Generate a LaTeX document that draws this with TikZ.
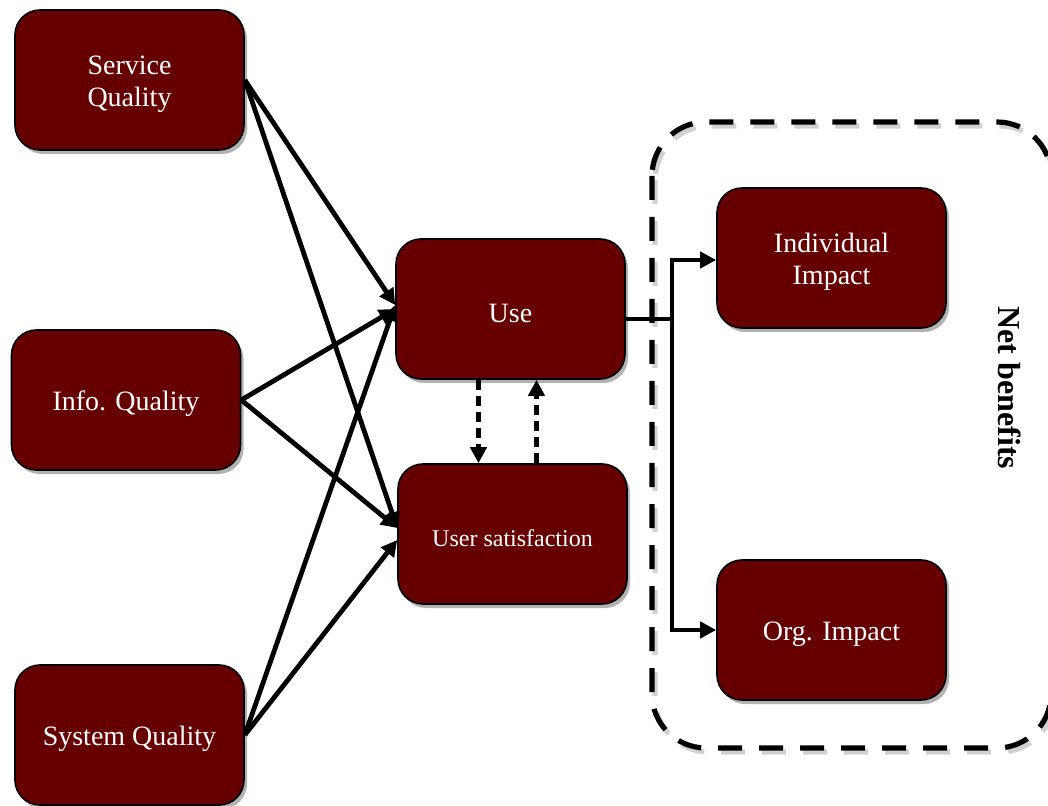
\documentclass[tikz,border=0pt]{standalone}
\usepackage{fontspec}
\setmainfont{Liberation Serif}
\usetikzlibrary{arrows.meta,shadows,calc}
\definecolor{boxred}{HTML}{660000}
\newcommand{\lowr}[1]{\raisebox{-2pt}[\height][\depth]{#1}}
\begin{document}
\begin{tikzpicture}[x=0.5pt,y=-0.5pt,
  box/.style={draw=black, line width=0.8pt, fill=boxred, rounded corners=12.5pt,
    minimum width=114.5pt, minimum height=70pt, text=white,
    font=\fontsize{14}{16}\selectfont, align=center,
    drop shadow={shadow xshift=1.5pt, shadow yshift=-2pt, opacity=0.3, fill=black}},
  arr/.style={line width=2.4pt, -{Triangle[length=8pt,width=8pt]}},
  darr/.style={line width=2.6pt, dash pattern=on 5pt off 3pt, -{Triangle[length=8pt,width=8pt]}},
  netbox/.style={line width=2.6pt, dash pattern=on 12pt off 8.5pt, rounded corners=27pt}]
\useasboundingbox (0,0) rectangle (1048,806);
% net benefits dashed frame
\draw[netbox, black!30, opacity=0.6] (655,126) rectangle (1054,752);
\draw[netbox] (652,122) rectangle (1051,748);
\node[rotate=-90, font=\fontsize{16}{18}\selectfont\bfseries] (nb) at (1010,388) {Net benefits};
% boxes
\node[box] (sq) at (129.5,80) {\lowr{\begin{tabular}{@{}c@{}}Service\\Quality\end{tabular}}};
\node[box] (iq) at (126,400) {\lowr{Info. Quality}};
\node[box] (syq) at (129.5,735) {\lowr{System Quality}};
\node[box] (use) at (510.5,309) {\lowr{Use}};
\node[box, font=\fontsize{12}{14}\selectfont] (us) at (512.5,534) {\lowr{User satisfaction}};
\node[box] (ii) at (831.5,258) {\lowr{\begin{tabular}{@{}c@{}}Individual\\Impact\end{tabular}}};
\node[box] (oi) at (831.5,630) {\lowr{Org. Impact}};
% arrows to Use / User satisfaction
\draw[arr] (sq.east) -- ([yshift=2pt]use.west);
\draw[arr] (sq.east) -- ([yshift=3pt]us.west);
\draw[arr] (iq.east) -- (use.west);
\draw[arr] (iq.east) -- ([yshift=3pt]us.west);
\draw[arr] (syq.east) -- ([yshift=2pt]use.west);
\draw[arr] (syq.east) -- ([yshift=-3pt]us.west);
% dashed arrows
\draw[darr] ([xshift=-16pt]use.south) -- ([xshift=-17pt]us.north);
\draw[darr] ([xshift=12pt]us.north) -- ([xshift=13pt]use.south);
% to impacts
\coordinate (j) at (672,319);
\draw[line width=2.4pt] ([yshift=-5pt]use.east) -- (j);
\draw[arr] (j) |- ([yshift=-1pt]ii.west);
\draw[arr] (j) |- (oi.west);
\end{tikzpicture}
\end{document}
